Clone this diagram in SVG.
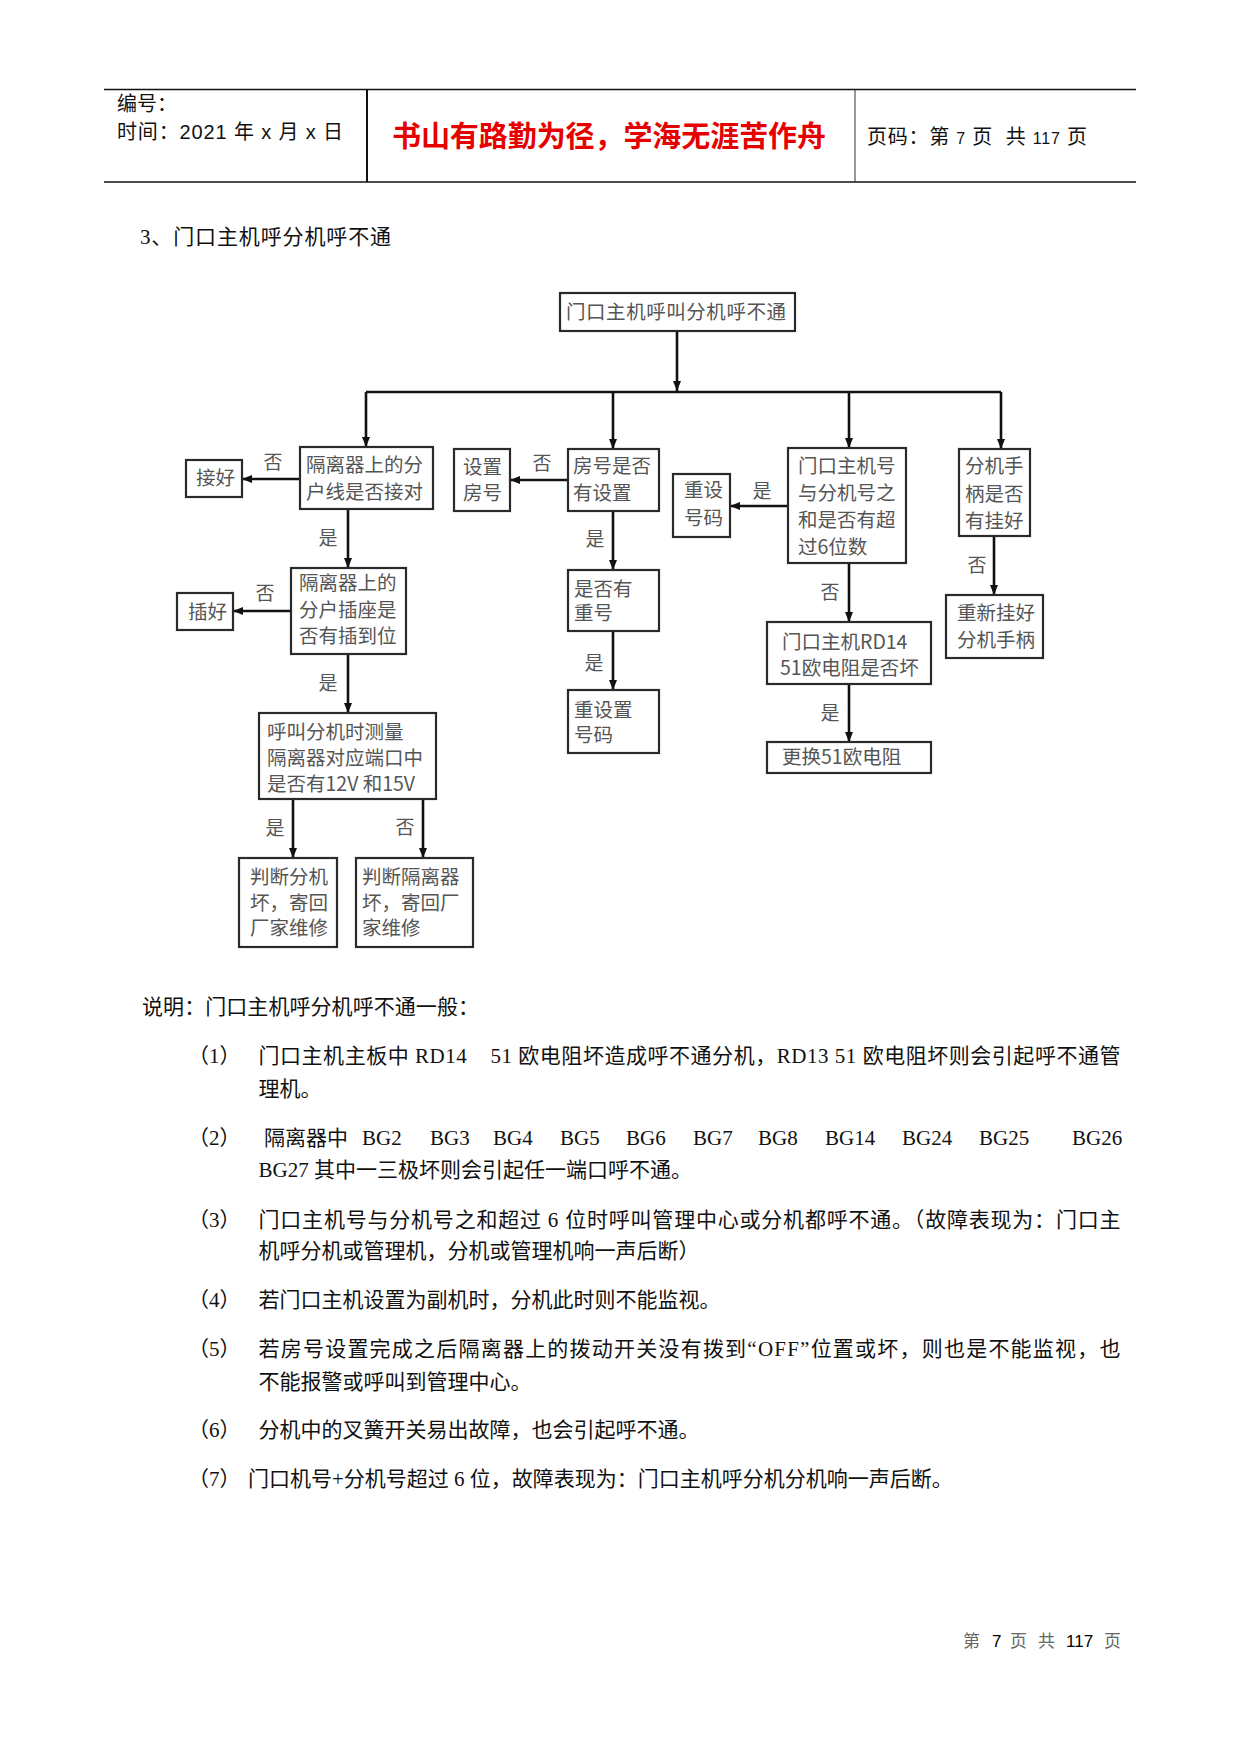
<svg xmlns="http://www.w3.org/2000/svg" width="1241" height="1754" viewBox="0 0 1241 1754">
<defs>
<style>
.hl{stroke:#111;stroke-width:1.5}
.hd{font-family:"Liberation Sans","Noto Sans CJK SC",sans-serif;font-size:20px;fill:#111}
.red{font-family:"Noto Sans CJK SC",sans-serif;font-size:29px;font-weight:bold;fill:#e60000}
.box{fill:#fff;stroke:#2a2a2a;stroke-width:2.2}
.ft{font-family:"Noto Sans CJK SC",sans-serif;font-size:19.5px;fill:#555}
.lbl{font-family:"Noto Sans CJK SC",sans-serif;font-size:19px;fill:#555;text-anchor:middle}
.conn{stroke:#111;stroke-width:2.6;fill:none}
.body{font-family:"Liberation Serif","Noto Sans CJK SC",serif;font-size:21px;fill:#111}
.foot{font-family:"Noto Sans CJK SC",sans-serif;font-size:17px;fill:#666}
.fn{font-family:"Liberation Sans",sans-serif;font-size:17px;fill:#000}
</style>
<marker id="ah" markerUnits="userSpaceOnUse" markerWidth="10" markerHeight="8" refX="10" refY="4" orient="auto">
<path d="M0,0 L10,4 L0,8 z" fill="#111"/>
</marker>
</defs>
<rect width="1241" height="1754" fill="#fff"/>

<g id="header">
<line class="hl" x1="104" y1="89.5" x2="1136" y2="89.5"/>
<line class="hl" x1="104" y1="182" x2="1136" y2="182"/>
<line x1="367" y1="89.5" x2="367" y2="182" stroke="#111" stroke-width="2"/>
<line x1="855" y1="89.5" x2="855" y2="182" stroke="#333" stroke-width="1"/>
<text class="hd" x="117" y="111">编号：</text>
<text class="hd" x="117" y="139" textLength="226">时间：2021 年 x 月 x 日</text>
<text class="red" x="392" y="147" textLength="434">书山有路勤为径，学海无涯苦作舟</text>
<text class="hd" x="867" y="144" textLength="220" xml:space="preserve">页码：第 <tspan font-size="16">7</tspan> 页  共 <tspan font-size="16">117</tspan> 页</text>
</g>

<text class="body" x="140" y="244" textLength="251">3、门口主机呼分机呼不通</text>

<g id="connectors">
<line class="conn" x1="677" y1="331" x2="677" y2="391" marker-end="url(#ah)"/>
<line class="conn" x1="366" y1="392" x2="1001" y2="392"/>
<line class="conn" x1="366" y1="392" x2="366" y2="447" marker-end="url(#ah)"/>
<line class="conn" x1="613" y1="392" x2="613" y2="449" marker-end="url(#ah)"/>
<line class="conn" x1="849" y1="392" x2="849" y2="448" marker-end="url(#ah)"/>
<line class="conn" x1="1001" y1="392" x2="1001" y2="449" marker-end="url(#ah)"/>
<line class="conn" x1="300" y1="479" x2="242" y2="479" marker-end="url(#ah)"/>
<line class="conn" x1="568" y1="480" x2="510" y2="480" marker-end="url(#ah)"/>
<line class="conn" x1="788" y1="506" x2="730" y2="506" marker-end="url(#ah)"/>
<line class="conn" x1="348" y1="509" x2="348" y2="568" marker-end="url(#ah)"/>
<line class="conn" x1="613" y1="511" x2="613" y2="570" marker-end="url(#ah)"/>
<line class="conn" x1="849" y1="563" x2="849" y2="622" marker-end="url(#ah)"/>
<line class="conn" x1="994" y1="536" x2="994" y2="595" marker-end="url(#ah)"/>
<line class="conn" x1="291" y1="611" x2="233" y2="611" marker-end="url(#ah)"/>
<line class="conn" x1="348" y1="654" x2="348" y2="713" marker-end="url(#ah)"/>
<line class="conn" x1="613" y1="631" x2="613" y2="690" marker-end="url(#ah)"/>
<line class="conn" x1="849" y1="684" x2="849" y2="742" marker-end="url(#ah)"/>
<line class="conn" x1="293" y1="799" x2="293" y2="858" marker-end="url(#ah)"/>
<line class="conn" x1="423" y1="799" x2="423" y2="858" marker-end="url(#ah)"/>
<text class="lbl" x="273" y="469">否</text>
<text class="lbl" x="542" y="470">否</text>
<text class="lbl" x="762" y="498">是</text>
<text class="lbl" x="328" y="545">是</text>
<text class="lbl" x="595" y="546">是</text>
<text class="lbl" x="830" y="599">否</text>
<text class="lbl" x="977" y="572">否</text>
<text class="lbl" x="265" y="600">否</text>
<text class="lbl" x="328" y="690">是</text>
<text class="lbl" x="594" y="670">是</text>
<text class="lbl" x="830" y="720">是</text>
<text class="lbl" x="275" y="835">是</text>
<text class="lbl" x="405" y="834">否</text>
</g>

<g id="n0"><rect class="box" x="560" y="293" width="235" height="38"/><text class="ft" x="566" y="319" textLength="220">门口主机呼叫分机呼不通</text></g>
<g id="n1"><rect class="box" x="300" y="447" width="133" height="62"/><text class="ft" x="306" y="472">隔离器上的分</text><text class="ft" x="306" y="499">户线是否接对</text></g>
<g id="n2"><rect class="box" x="186" y="460" width="56" height="37"/><text class="ft" x="196" y="485">接好</text></g>
<g id="n3"><rect class="box" x="454" y="449" width="56" height="62"/><text class="ft" x="463" y="474">设置</text><text class="ft" x="463" y="500">房号</text></g>
<g id="n4"><rect class="box" x="568" y="449" width="91" height="62"/><text class="ft" x="573" y="473">房号是否</text><text class="ft" x="573" y="500">有设置</text></g>
<g id="n5"><rect class="box" x="788" y="448" width="118" height="115"/><text class="ft" x="798" y="473">门口主机号</text><text class="ft" x="798" y="500">与分机号之</text><text class="ft" x="798" y="527">和是否有超</text><text class="ft" x="798" y="554">过6位数</text></g>
<g id="n6"><rect class="box" x="673" y="474" width="57" height="63"/><text class="ft" x="684" y="497">重设</text><text class="ft" x="684" y="525">号码</text></g>
<g id="n7"><rect class="box" x="959" y="449" width="71" height="87"/><text class="ft" x="965" y="473">分机手</text><text class="ft" x="965" y="501">柄是否</text><text class="ft" x="965" y="528">有挂好</text></g>
<g id="n8"><rect class="box" x="946" y="595" width="97" height="63"/><text class="ft" x="957" y="620">重新挂好</text><text class="ft" x="957" y="647">分机手柄</text></g>
<g id="n9"><rect class="box" x="291" y="568" width="115" height="86"/><text class="ft" x="299" y="590">隔离器上的</text><text class="ft" x="299" y="617">分户插座是</text><text class="ft" x="299" y="643">否有插到位</text></g>
<g id="n10"><rect class="box" x="177" y="593" width="56" height="37"/><text class="ft" x="188" y="619">插好</text></g>
<g id="n11"><rect class="box" x="259" y="713" width="177" height="86"/><text class="ft" x="267" y="739">呼叫分机时测量</text><text class="ft" x="267" y="765">隔离器对应端口中</text><text class="ft" x="267" y="791">是否有12V 和15V</text></g>
<g id="n12"><rect class="box" x="568" y="570" width="91" height="61"/><text class="ft" x="574" y="596">是否有</text><text class="ft" x="574" y="620">重号</text></g>
<g id="n13"><rect class="box" x="568" y="690" width="91" height="63"/><text class="ft" x="574" y="717">重设置</text><text class="ft" x="574" y="742">号码</text></g>
<g id="n14"><rect class="box" x="767" y="622" width="164" height="62"/><text class="ft" x="782" y="649">门口主机RD14</text><text class="ft" x="780" y="675">51欧电阻是否坏</text></g>
<g id="n15"><rect class="box" x="767" y="742" width="164" height="31"/><text class="ft" x="782" y="764">更换51欧电阻</text></g>
<g id="n16"><rect class="box" x="239" y="858" width="98" height="89"/><text class="ft" x="250" y="884">判断分机</text><text class="ft" x="250" y="910">坏，寄回</text><text class="ft" x="250" y="935">厂家维修</text></g>
<g id="n17"><rect class="box" x="356" y="858" width="117" height="89"/><text class="ft" x="362" y="884">判断隔离器</text><text class="ft" x="362" y="910">坏，寄回厂</text><text class="ft" x="362" y="935">家维修</text></g>

<g id="notes">
<text class="body" x="142" y="1014" textLength="337">说明：门口主机呼分机呼不通一般：</text>
<text class="body" x="188" y="1063">（1）</text>
<text class="body" x="258.5" y="1063" textLength="862" xml:space="preserve">门口主机主板中 RD14    51 欧电阻坏造成呼不通分机，RD13 51 欧电阻坏则会引起呼不通管</text>
<text class="body" x="258.5" y="1096">理机。</text>
<text class="body" x="188" y="1145">（2）</text>
<text class="body" x="264" y="1145">隔离器中</text>
<text class="body" x="362" y="1145">BG2</text>
<text class="body" x="430" y="1145">BG3</text>
<text class="body" x="493" y="1145">BG4</text>
<text class="body" x="560" y="1145">BG5</text>
<text class="body" x="626" y="1145">BG6</text>
<text class="body" x="693" y="1145">BG7</text>
<text class="body" x="758" y="1145">BG8</text>
<text class="body" x="825" y="1145">BG14</text>
<text class="body" x="902" y="1145">BG24</text>
<text class="body" x="979" y="1145">BG25</text>
<text class="body" x="1072" y="1145">BG26</text>
<text class="body" x="258.5" y="1177">BG27 其中一三极坏则会引起任一端口呼不通。</text>
<text class="body" x="188" y="1227">（3）</text>
<text class="body" x="258.5" y="1227" textLength="862">门口主机号与分机号之和超过 6 位时呼叫管理中心或分机都呼不通。（故障表现为：门口主</text>
<text class="body" x="258.5" y="1258">机呼分机或管理机，分机或管理机响一声后断）</text>
<text class="body" x="188" y="1307">（4）</text>
<text class="body" x="258.5" y="1307">若门口主机设置为副机时，分机此时则不能监视。</text>
<text class="body" x="188" y="1356">（5）</text>
<text class="body" x="258.5" y="1356" textLength="862">若房号设置完成之后隔离器上的拨动开关没有拨到“OFF”位置或坏，则也是不能监视，也</text>
<text class="body" x="258.5" y="1389">不能报警或呼叫到管理中心。</text>
<text class="body" x="188" y="1437">（6）</text>
<text class="body" x="258.5" y="1437">分机中的叉簧开关易出故障，也会引起呼不通。</text>
<text class="body" x="188" y="1486">（7）</text>
<text class="body" x="248" y="1486">门口机号+分机号超过 6 位，故障表现为：门口主机呼分机分机响一声后断。</text>
</g>

<g id="footer">
<text class="foot" x="963" y="1647">第</text>
<text class="fn" x="992" y="1647">7</text>
<text class="foot" x="1010" y="1647">页</text>
<text class="foot" x="1038" y="1647">共</text>
<text class="fn" x="1066" y="1647">117</text>
<text class="foot" x="1104" y="1647">页</text>
</g>
</svg>
